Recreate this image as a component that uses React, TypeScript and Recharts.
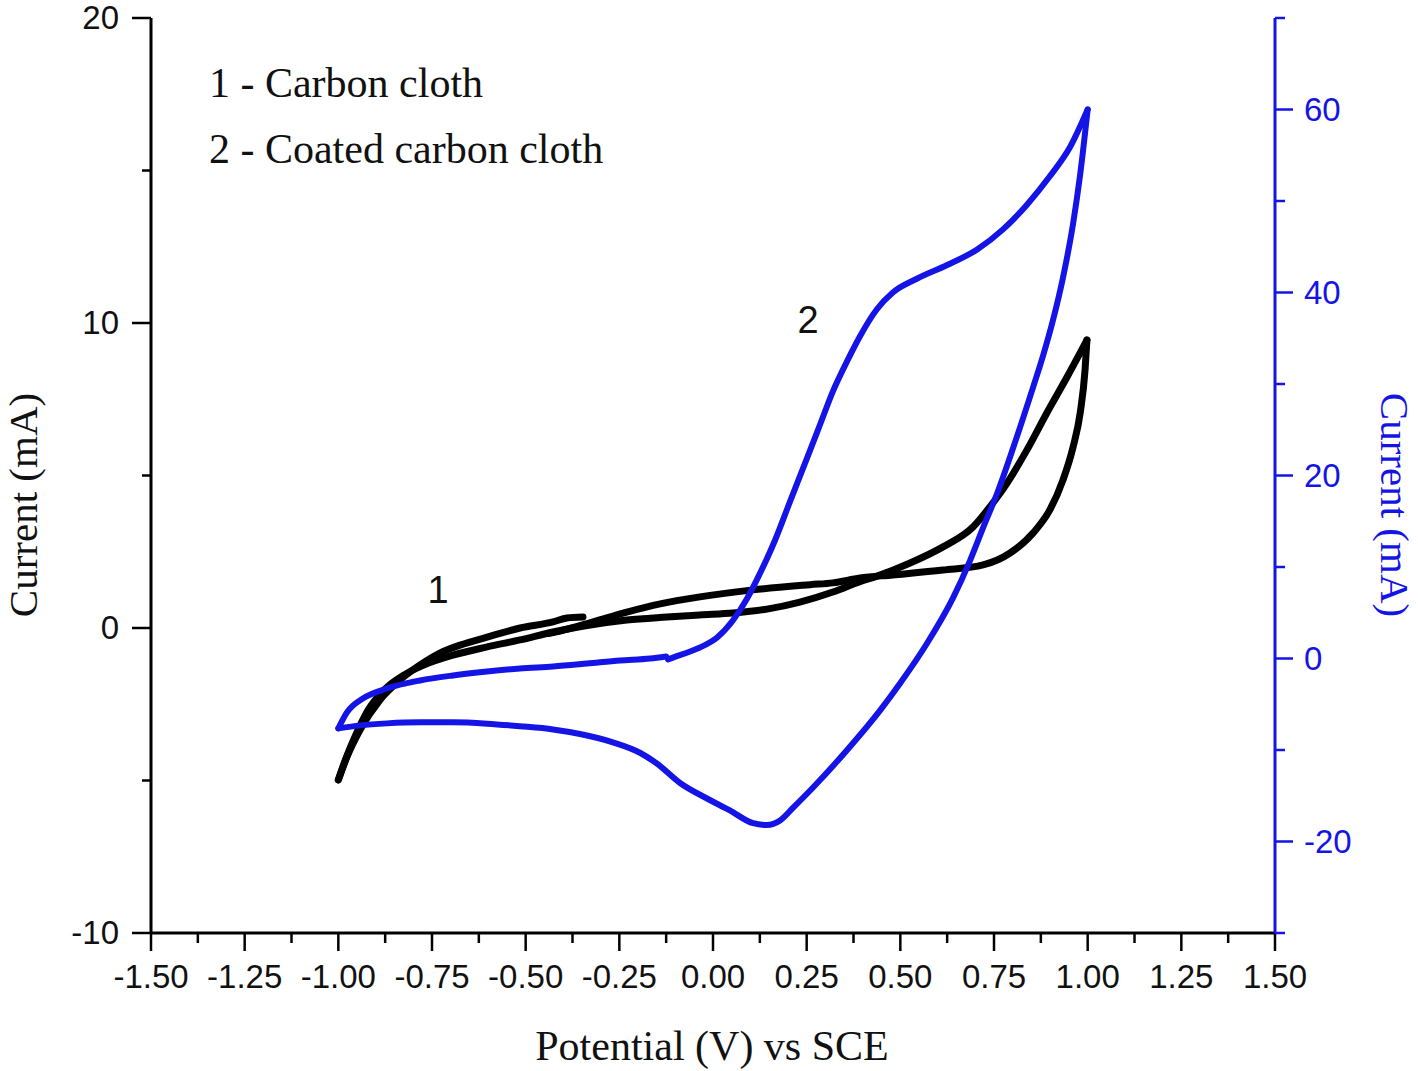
import React from 'react';
import { LineChart, Line, XAxis, YAxis, ReferenceDot } from 'recharts';

// ---- tick values ----
const xMajorTicks = [-1.5, -1.25, -1.0, -0.75, -0.5, -0.25, 0, 0.25, 0.5, 0.75, 1.0, 1.25, 1.5];
const xMinorTicks = [-1.375, -1.125, -0.875, -0.625, -0.375, -0.125, 0.125, 0.375, 0.625, 0.875, 1.125, 1.375];
const leftMajorTicks = [-10, 0, 10, 20];
const leftMinorTicks = [-5, 5, 15];
const rightMajorTicks = [-20, 0, 20, 40, 60];
const rightMinorTicks = [-30, -10, 10, 30, 50, 70];

// ---- curve 1: carbon cloth (left axis, mA), one array per sweep ----
const carbonStartSweep = [
  { x: -1.0, y: -4.98 }, { x: -0.977, y: -4.23 }, { x: -0.942, y: -3.34 }, { x: -0.889, y: -2.36 },
  { x: -0.835, y: -1.7 }, { x: -0.782, y: -1.21 }, { x: -0.729, y: -0.82 }, { x: -0.675, y: -0.56 },
  { x: -0.603, y: -0.3 }, { x: -0.515, y: 0.0 }, { x: -0.427, y: 0.2 }, { x: -0.39, y: 0.33 },
  { x: -0.347, y: 0.36 },
];
const carbonForwardSweep = [
  { x: -1.0, y: -4.98 }, { x: -0.985, y: -4.45 }, { x: -0.955, y: -3.55 }, { x: -0.921, y: -2.7 },
  { x: -0.875, y: -2.0 }, { x: -0.822, y: -1.52 }, { x: -0.769, y: -1.2 }, { x: -0.694, y: -0.89 },
  { x: -0.603, y: -0.62 }, { x: -0.515, y: -0.39 }, { x: -0.427, y: -0.13 }, { x: -0.336, y: 0.08 },
  { x: -0.23, y: 0.26 }, { x: -0.123, y: 0.36 }, { x: -0.035, y: 0.43 }, { x: 0.053, y: 0.49 },
  { x: 0.144, y: 0.62 }, { x: 0.232, y: 0.85 }, { x: 0.32, y: 1.18 }, { x: 0.392, y: 1.52 },
  { x: 0.438, y: 1.7 }, { x: 0.526, y: 2.13 }, { x: 0.614, y: 2.66 }, { x: 0.694, y: 3.31 },
  { x: 0.739, y: 3.97 }, { x: 0.785, y: 4.75 }, { x: 0.838, y: 5.84 }, { x: 0.891, y: 7.05 },
  { x: 0.945, y: 8.23 }, { x: 0.998, y: 9.44 },
];
const carbonReverseSweep = [
  { x: -0.44, y: -0.18 }, { x: -0.408, y: -0.1 }, { x: -0.32, y: 0.2 }, { x: -0.23, y: 0.52 },
  { x: -0.141, y: 0.79 }, { x: -0.035, y: 1.02 }, { x: 0.107, y: 1.25 }, { x: 0.259, y: 1.42 },
  { x: 0.32, y: 1.48 }, { x: 0.392, y: 1.64 }, { x: 0.48, y: 1.74 }, { x: 0.614, y: 1.9 },
  { x: 0.721, y: 2.07 }, { x: 0.793, y: 2.46 }, { x: 0.854, y: 3.11 }, { x: 0.899, y: 3.87 },
  { x: 0.934, y: 4.85 }, { x: 0.961, y: 5.93 }, { x: 0.98, y: 7.05 }, { x: 0.993, y: 8.46 },
  { x: 0.998, y: 9.44 },
];

// ---- curve 2: coated carbon cloth (right axis, mA), one array per sweep ----
const coatedForwardSweep = [
  { x: -0.12, y: -0.1 }, { x: -0.107, y: 0.1 }, { x: -0.061, y: 0.76 }, { x: -0.035, y: 1.2 },
  { x: 0.011, y: 2.29 }, { x: 0.053, y: 4.15 }, { x: 0.091, y: 6.55 }, { x: 0.125, y: 9.27 },
  { x: 0.165, y: 12.87 }, { x: 0.206, y: 17.2 }, { x: 0.251, y: 21.9 }, { x: 0.286, y: 25.6 },
  { x: 0.32, y: 29.2 }, { x: 0.358, y: 32.5 }, { x: 0.392, y: 35.2 }, { x: 0.438, y: 38.2 },
  { x: 0.48, y: 40.0 }, { x: 0.544, y: 41.5 }, { x: 0.625, y: 43.0 }, { x: 0.705, y: 44.7 },
  { x: 0.774, y: 46.9 }, { x: 0.838, y: 49.6 }, { x: 0.899, y: 52.7 }, { x: 0.953, y: 55.9 },
  { x: 1.0, y: 60.0 },
];
const coatedReverseSweep = [
  { x: -1.0, y: -7.64 }, { x: -0.942, y: -7.31 }, { x: -0.87, y: -7.09 }, { x: -0.782, y: -6.98 },
  { x: -0.694, y: -6.98 }, { x: -0.603, y: -7.12 }, { x: -0.515, y: -7.4 }, { x: -0.427, y: -7.75 },
  { x: -0.355, y: -8.25 }, { x: -0.267, y: -9.16 }, { x: -0.195, y: -10.3 }, { x: -0.149, y: -11.5 },
  { x: -0.088, y: -13.6 }, { x: -0.016, y: -15.3 }, { x: 0.045, y: -16.6 }, { x: 0.107, y: -18.0 },
  { x: 0.144, y: -18.2 }, { x: 0.179, y: -17.7 }, { x: 0.214, y: -16.3 }, { x: 0.267, y: -14.1 },
  { x: 0.358, y: -10.0 }, { x: 0.446, y: -5.67 }, { x: 0.499, y: -2.73 }, { x: 0.571, y: 1.64 },
  { x: 0.641, y: 6.65 }, { x: 0.686, y: 10.7 }, { x: 0.721, y: 14.3 }, { x: 0.758, y: 18.0 },
  { x: 0.801, y: 23.0 }, { x: 0.854, y: 29.6 }, { x: 0.881, y: 33.1 }, { x: 0.907, y: 36.9 },
  { x: 0.934, y: 41.6 }, { x: 0.961, y: 47.5 }, { x: 0.98, y: 52.9 }, { x: 1.0, y: 60.0 },
];
const coatedReturnSweep = [
  { x: -1.0, y: -7.64 }, { x: -0.977, y: -5.89 }, { x: -0.934, y: -4.36 }, { x: -0.87, y: -3.27 },
  { x: -0.782, y: -2.4 }, { x: -0.694, y: -1.85 }, { x: -0.603, y: -1.42 }, { x: -0.515, y: -1.09 },
  { x: -0.427, y: -0.87 }, { x: -0.336, y: -0.55 }, { x: -0.248, y: -0.22 }, { x: -0.168, y: 0.0 },
  { x: -0.125, y: 0.22 },
];

const carbonSweeps = [carbonStartSweep, carbonForwardSweep, carbonReverseSweep];
const coatedSweeps = [coatedForwardSweep, coatedReverseSweep, coatedReturnSweep];

const SANS = '"Liberation Sans", Arial, sans-serif';
const SERIF = '"Liberation Serif", "Times New Roman", serif';
const BLUE = '#1414e6';
const INK = '#111';

const isIn = (arr: number[], v: number) => arr.some((a) => Math.abs(a - v) < 1e-9);

const BottomTick = (props: any) => {
  const { x, y, payload } = props;
  const major = isIn(xMajorTicks, payload.value);
  return (
    <g>
      <line x1={x} y1={y} x2={x} y2={y + (major ? 18 : 10)} stroke="#000" strokeWidth={2.5} />
      {major && (
        <text x={x} y={y + 55} textAnchor="middle" fontFamily={SANS} fontSize={33} fill={INK}>
          {Number(payload.value).toFixed(2)}
        </text>
      )}
    </g>
  );
};

const TopTick = (props: any) => {
  const { x, y, payload } = props;
  const major = isIn(xMajorTicks, payload.value);
  return <line x1={x} y1={y} x2={x} y2={y + (major ? 17 : 9)} stroke="#000" strokeWidth={2.5} />;
};

const LeftTick = (props: any) => {
  const { x, y, payload } = props;
  const major = isIn(leftMajorTicks, payload.value);
  return (
    <g>
      <line x1={x} y1={y} x2={x - (major ? 19 : 9)} y2={y} stroke="#000" strokeWidth={2.5} />
      {major && (
        <text x={x - 32} y={y + 11} textAnchor="end" fontFamily={SANS} fontSize={33} fill={INK}>
          {payload.value}
        </text>
      )}
    </g>
  );
};

const RightTick = (props: any) => {
  const { x, y, payload } = props;
  const major = isIn(rightMajorTicks, payload.value);
  return (
    <g>
      <line x1={x} y1={y} x2={x + (major ? 18 : 10)} y2={y} stroke={BLUE} strokeWidth={2.5} />
      {major && (
        <text x={x + 29} y={y + 11} textAnchor="start" fontFamily={SANS} fontSize={33} fill={BLUE}>
          {payload.value}
        </text>
      )}
    </g>
  );
};

const AxisTitle = (props: any) => {
  const { px, py, rot, color, text, size } = props;
  return (
    <text
      x={px}
      y={py}
      transform={`rotate(${rot} ${px} ${py})`}
      textAnchor="middle"
      dominantBaseline="central"
      fontFamily={SERIF}
      fontSize={size}
      fill={color}
    >
      {text}
    </text>
  );
};

const allX = [...xMajorTicks, ...xMinorTicks].sort((a, b) => a - b);

export default function App() {
  return (
    <div style={{ position: 'absolute', left: 0, top: 0 }}>
      <LineChart width={1418} height={1071} margin={{ top: 18, right: 0, bottom: 0, left: 0 }}>
        <XAxis
          xAxisId="bottom"
          dataKey="x"
          type="number"
          domain={[-1.5, 1.5]}
          allowDataOverflow
          ticks={allX}
          interval={0}
          height={138}
          tickSize={0}
          tickMargin={0}
          tickLine={false}
          axisLine={{ stroke: '#000', strokeWidth: 3 }}
          tick={<BottomTick />}
          label={<AxisTitle px={712} py={1046} rot={0} color={INK} size={42} text="Potential (V) vs SCE" />}
        />
        <XAxis
          xAxisId="top"
          orientation="top"
          dataKey="x"
          type="number"
          domain={[-1.5, 1.5]}
          allowDataOverflow
          ticks={allX}
          interval={0}
          height={0}
          tickSize={0}
          tickMargin={0}
          tickLine={false}
          axisLine={{ stroke: '#000', strokeWidth: 3 }}
          tick={<TopTick />}
        />
        <YAxis
          yAxisId="left"
          type="number"
          domain={[-10, 20]}
          allowDataOverflow
          ticks={[...leftMajorTicks, ...leftMinorTicks].sort((a, b) => a - b)}
          interval={0}
          width={151}
          tickSize={0}
          tickMargin={0}
          tickLine={false}
          axisLine={{ stroke: '#000', strokeWidth: 3 }}
          tick={<LeftTick />}
          label={<AxisTitle px={23} py={505} rot={-90} color={INK} size={41} text="Current (mA)" />}
        />
        <YAxis
          yAxisId="right"
          orientation="right"
          type="number"
          domain={[-30, 70]}
          allowDataOverflow
          ticks={[...rightMajorTicks, ...rightMinorTicks].sort((a, b) => a - b)}
          interval={0}
          width={143}
          tickSize={0}
          tickMargin={0}
          tickLine={false}
          axisLine={{ stroke: BLUE, strokeWidth: 3 }}
          tick={<RightTick />}
          label={<AxisTitle px={1395} py={505} rot={90} color={BLUE} size={41} text="Current (mA)" />}
        />
        {carbonSweeps.map((seg, i) => (
          <Line
            key={`c${i}`}
            data={seg}
            dataKey="y"
            xAxisId="bottom"
            yAxisId="left"
            type="monotone"
            stroke="#000"
            strokeWidth={7}
            strokeLinejoin="round"
            strokeLinecap="round"
            dot={false}
            activeDot={false}
            isAnimationActive={false}
          />
        ))}
        {coatedSweeps.map((seg, i) => (
          <Line
            key={`b${i}`}
            data={seg}
            dataKey="y"
            xAxisId="bottom"
            yAxisId="right"
            type="monotone"
            stroke={BLUE}
            strokeWidth={6}
            strokeLinejoin="round"
            strokeLinecap="round"
            dot={false}
            activeDot={false}
            isAnimationActive={false}
          />
        ))}
        <ReferenceDot
          xAxisId="bottom"
          yAxisId="left"
          x={-1.348}
          y={17.9}
          r={1}
          fill="none"
          stroke="none"
          label={{ value: '1 - Carbon cloth', position: 'right', offset: 0, fontSize: 42, fontFamily: SERIF, fill: INK }}
        />
        <ReferenceDot
          xAxisId="bottom"
          yAxisId="left"
          x={-1.348}
          y={15.75}
          r={1}
          fill="none"
          stroke="none"
          label={{ value: '2 - Coated carbon cloth', position: 'right', offset: 0, fontSize: 42, fontFamily: SERIF, fill: INK }}
        />
        <ReferenceDot
          xAxisId="bottom"
          yAxisId="left"
          x={-0.734}
          y={1.25}
          r={1}
          fill="none"
          stroke="none"
          label={{ value: '1', position: 'center', fontSize: 38, fontFamily: SANS, fill: INK }}
        />
        <ReferenceDot
          xAxisId="bottom"
          yAxisId="left"
          x={0.254}
          y={10.1}
          r={1}
          fill="none"
          stroke="none"
          label={{ value: '2', position: 'center', fontSize: 38, fontFamily: SANS, fill: INK }}
        />
      </LineChart>
    </div>
  );
}
